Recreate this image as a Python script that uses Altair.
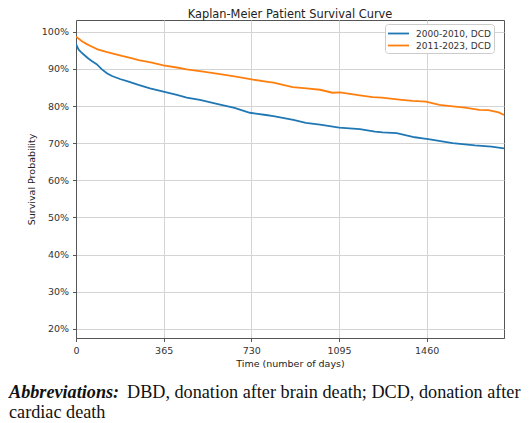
import altair as alt
import pandas as pd

# ---- data ----
series_names = ["2000-2010, DCD", "2011-2023, DCD"]
series_colors = ["#1f77b4", "#ff7f0e"]

days_2000 = [0, 5, 11, 20, 32, 50, 67, 86, 108, 130, 150, 183, 219, 260, 308, 364,
             420, 461, 516, 600, 660, 724, 791, 822, 905, 957, 1016, 1096, 1182, 1245,
             1277, 1335, 1411, 1443, 1467, 1568, 1661, 1730, 1782]
surv_2000 = [96.8, 96.0, 95.2, 94.6, 93.9, 92.9, 92.1, 91.3, 89.9, 88.8, 88.1, 87.3, 86.6,
             85.7, 84.8, 83.9, 83.0, 82.3, 81.7, 80.4, 79.5, 78.2, 77.6, 77.3, 76.3, 75.5,
             75.0, 74.2, 73.8, 73.1, 72.9, 72.7, 71.6, 71.3, 71.1, 70.0, 69.4, 69.1, 68.6]

days_2011 = [0, 10, 25, 45, 67, 90, 122, 150, 191, 230, 261, 316, 364, 420, 461, 530,
             600, 660, 731, 791, 822, 902, 960, 1016, 1068, 1099, 1182, 1235, 1273, 1356,
             1402, 1457, 1513, 1560, 1620, 1679, 1717, 1760, 1782]
surv_2011 = [98.7, 98.2, 97.5, 96.7, 96.0, 95.3, 94.7, 94.2, 93.5, 92.9, 92.4, 91.7, 91.0,
             90.4, 89.9, 89.3, 88.6, 88.0, 87.2, 86.6, 86.3, 85.1, 84.8, 84.4, 83.6, 83.7,
             82.9, 82.4, 82.3, 81.7, 81.4, 81.2, 80.3, 80.0, 79.6, 79.0, 78.9, 78.3, 77.6]

x_ticks = [0, 365, 730, 1095, 1460]
y_ticks = [0.2, 0.3, 0.4, 0.5, 0.6, 0.7, 0.8, 0.9, 1.0]

title_text = ["Kaplan-Meier Patient Survival Curve"]
x_title = "Time (number of days)"
y_title = "Survival Probability"
caption_bold = ["Abbreviations:"]
caption_line1 = ["DBD, donation after brain death; DCD, donation after"]
caption_line2 = ["cardiac death"]

rows = []
for d, s in zip(days_2000, surv_2000):
    rows.append({"day": d, "surv": s / 100, "group": series_names[0]})
for d, s in zip(days_2011, surv_2011):
    rows.append({"day": d, "surv": s / 100, "group": series_names[1]})
df = pd.DataFrame(rows)

lines = alt.Chart(df).mark_line(strokeWidth=1.8, clip=True).encode(
    x=alt.X("day:Q",
            scale=alt.Scale(domain=[0, 1782], nice=False, zero=False),
            axis=alt.Axis(values=x_ticks, format="d", title=x_title, labelFlush=False,
                          tickSize=3.5, labelPadding=4, titlePadding=3)),
    y=alt.Y("surv:Q",
            scale=alt.Scale(domain=[0.175, 1.032], nice=False, zero=False),
            axis=alt.Axis(values=y_ticks, format=".0%", title=y_title,
                          tickSize=3.5, labelPadding=4, titlePadding=5)),
    color=alt.Color("group:N",
                    scale=alt.Scale(domain=series_names, range=series_colors),
                    legend=alt.Legend(title=None, orient="none", legendX=309, legendY=4,
                                      symbolType="M-1.08,0L2.42,0", symbolSize=144,
                                      symbolStrokeWidth=1.8, labelFontSize=9,
                                      labelFont="DejaVu Sans", labelColor="#333333",
                                      labelOffset=14.5, padding=2.5, rowPadding=0,
                                      strokeColor="#cccccc", fillColor="white",
                                      cornerRadius=3)),
    order="day:Q",
)

title_mark = alt.Chart(pd.DataFrame({"t": title_text})).mark_text(
    align="center", baseline="alphabetic", font="DejaVu Sans", fontSize=11.4,
    color="#222222"
).encode(x=alt.value(214), y=alt.value(-2), text="t:N")

cap_font = "Liberation Serif"
cap_size = 18.2
cap_bold = alt.Chart(pd.DataFrame({"t": caption_bold})).mark_text(
    align="left", baseline="alphabetic", font=cap_font, fontSize=cap_size,
    fontStyle="italic", fontWeight="bold", color="#111111"
).encode(x=alt.value(-67), y=alt.value(378), text="t:N")

cap_l1 = alt.Chart(pd.DataFrame({"t": caption_line1})).mark_text(
    align="left", baseline="alphabetic", font=cap_font, fontSize=cap_size, color="#111111"
).encode(x=alt.value(51), y=alt.value(378), text="t:N")

cap_l2 = alt.Chart(pd.DataFrame({"t": caption_line2})).mark_text(
    align="left", baseline="alphabetic", font=cap_font, fontSize=cap_size, color="#111111"
).encode(x=alt.value(-67), y=alt.value(398), text="t:N")

chart = alt.layer(lines, title_mark, cap_bold, cap_l1, cap_l2).properties(
    width=428, height=318,
    autosize=alt.AutoSizeParams(type="none"),
    padding={"left": 68, "top": 12, "right": 20, "bottom": 88},
).configure_view(
    stroke="#555555", strokeWidth=1
).configure_axis(
    labelFont="DejaVu Sans", labelFontSize=9.5, labelColor="#333333",
    titleFont="DejaVu Sans", titleFontSize=9.5, titleFontWeight="normal",
    titleColor="#222222", tickColor="#555555", domainColor="#555555",
    gridColor="#d4d4d4", gridWidth=1
)

chart.save("out.html", embed_options={"renderer": "svg", "actions": False})
